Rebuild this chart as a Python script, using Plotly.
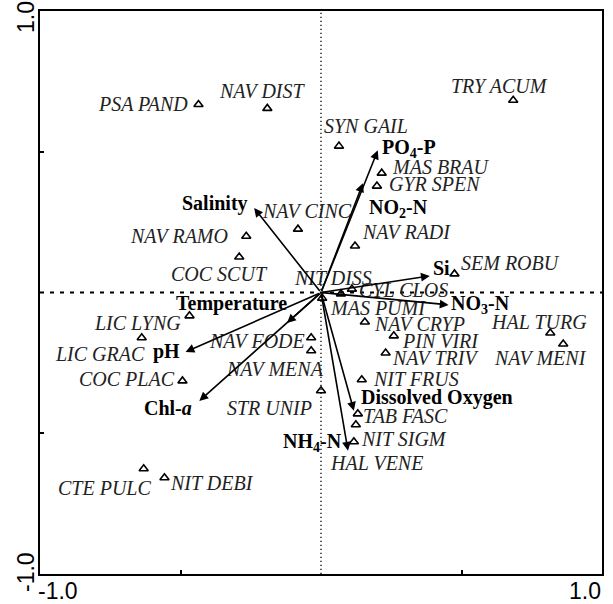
import plotly.graph_objects as go

# Species scores (axis 1, axis 2)
species = ["PSA PAND", "NAV DIST", "TRY ACUM", "SYN GAIL", "MAS BRAU", "GYR SPEN",
           "NAV CINC", "NAV RAMO", "COC SCUT", "NAV RADI", "SEM ROBU", "NIT DISS",
           "CYL CLOS", "MAS PUMI", "NAV CRYP", "PIN VIRI", "NAV TRIV", "HAL TURG",
           "NAV MENI", "NIT FRUS", "TAB FASC", "HAL VENE", "NIT SIGM", "STR UNIP",
           "NAV FODE", "NAV MENA", "LIC LYNG", "LIC GRAC", "COC PLAC", "CTE PULC",
           "NIT DEBI"]
sp_x = [-0.436, -0.191, 0.684, 0.064, 0.216, 0.199, -0.082, -0.266, -0.291, 0.121,
        0.475, 0.071, 0.110, 0.004, 0.156, 0.259, 0.230, 0.816, 0.862, 0.145,
        0.131, 0.124, 0.117, 0.000, -0.035, -0.035, -0.468, -0.638, -0.493, -0.631,
        -0.557]
sp_y = [0.668, 0.654, 0.683, 0.520, 0.424, 0.378, 0.225, 0.200, 0.126, 0.165,
        0.066, -0.005, 0.012, -0.020, -0.105, -0.154, -0.215, -0.144, -0.183, -0.310,
        -0.431, -0.470, -0.530, -0.349, -0.161, -0.207, -0.083, -0.161, -0.314, -0.626,
        -0.658]

# Environmental variable biplot scores
env_names = ["Salinity", "PO<sub>4</sub>-P", "NO<sub>2</sub>-N", "Si", "NO<sub>3</sub>-N",
             "Temperature", "pH", "Chl-<i>a</i>", "Dissolved Oxygen", "NH<sub>4</sub>-N"]
env_x = [-0.238, 0.202, 0.149, 0.387, 0.454, -0.121, -0.482, -0.433, 0.117, 0.096]
env_y = [0.300, 0.505, 0.388, 0.059, -0.044, -0.108, -0.211, -0.385, -0.420, -0.562]

# Axis tick labels
tick_vals = [-1.0, 1.0]
tick_text = ["-1.0", "1.0"]

# Label placement: (xanchor, xshift px, yshift px)
sp_label_pos = {
    "PSA PAND": ("right", -8, 0), "NAV DIST": ("center", -5, 17),
    "TRY ACUM": ("center", -14, 14), "SYN GAIL": ("center", 27, 20),
    "MAS BRAU": ("left", 8, 6), "GYR SPEN": ("left", 10, 2),
    "NAV CINC": ("center", 9, 18), "NAV RAMO": ("right", -16, 0),
    "COC SCUT": ("center", -20, -17), "NAV RADI": ("left", 5, 14),
    "SEM ROBU": ("left", 5, 11), "NIT DISS": ("center", -8, 16),
    "CYL CLOS": ("left", 5, -1), "MAS PUMI": ("left", 6, -10),
    "NAV CRYP": ("left", 7, -2), "PIN VIRI": ("left", 6, -5),
    "NAV TRIV": ("left", 4, -5), "HAL TURG": ("center", -11, 11),
    "NAV MENI": ("center", -23, -14), "NIT FRUS": ("left", 9, 1),
    "TAB FASC": ("left", 3, -2), "HAL VENE": ("center", 21, -38),
    "NIT SIGM": ("left", 5, 3), "STR UNIP": ("right", -7, -17),
    "NAV FODE": ("right", -4, -3), "NAV MENA": ("center", -36, -18),
    "LIC LYNG": ("right", -6, -7), "LIC GRAC": ("center", -42, -16),
    "COC PLAC": ("right", -5, 2), "CTE PULC": ("center", -39, -19),
    "NIT DEBI": ("left", 4, -5),
}
env_label_pos = [("right", -4, 5), ("left", 2, 2), ("left", 4, -25), ("left", 1, 8),
                 ("left", 0, 0), ("right", 2, 19), ("right", -4, 0), ("right", -5, -7),
                 ("left", 5, 13), ("right", -4, 8)]

serif = "'Times New Roman', 'Liberation Serif', Tinos, 'DejaVu Serif', serif"
sans = "Arial, 'Liberation Sans', sans-serif"

fig = go.Figure()

# origin reference lines
fig.add_shape(type="line", x0=-1, x1=1, y0=0, y1=0, xref="x", yref="y",
              line=dict(color="black", width=2, dash="4px,6px"), layer="below")
fig.add_shape(type="line", x0=0, x1=0, y0=-1, y1=1, xref="x", yref="y",
              line=dict(color="black", width=1.3, dash="1.3px,2.7px"), layer="below")

# species markers
fig.add_trace(go.Scatter(
    x=sp_x, y=sp_y, mode="markers",
    marker=dict(symbol="triangle-up-open", size=8, color="black",
                line=dict(width=1.6, color="black")),
    hoverinfo="text", text=species, showlegend=False))

annotations = []
for name, x, y in zip(species, sp_x, sp_y):
    anchor, dx, dy = sp_label_pos[name]
    annotations.append(dict(
        x=x, y=y, xref="x", yref="y", text=f"<i>{name}</i>", showarrow=False,
        xanchor=anchor, yanchor="middle", xshift=dx, yshift=dy,
        font=dict(family=serif, size=20, color="#222")))

# environmental arrows from origin
for name, x, y, (anchor, dx, dy) in zip(env_names, env_x, env_y, env_label_pos):
    annotations.append(dict(
        x=x, y=y, ax=0, ay=0, xref="x", yref="y", axref="x", ayref="y",
        text="", showarrow=True, arrowhead=2, arrowsize=1.1, arrowwidth=1.6,
        arrowcolor="black"))
    annotations.append(dict(
        x=x, y=y, xref="x", yref="y", text=f"<b>{name}</b>", showarrow=False,
        xanchor=anchor, yanchor="middle", xshift=dx, yshift=dy,
        font=dict(family=serif, size=20, color="black")))

# axis end labels
tick_font = dict(family=sans, size=23, color="black")
annotations.append(dict(x=tick_vals[0], y=0, xref="x", yref="paper", text=tick_text[0],
                        showarrow=False, xanchor="left", yanchor="top", xshift=-4, yshift=-2,
                        font=tick_font))
annotations.append(dict(x=tick_vals[1], y=0, xref="x", yref="paper", text=tick_text[1],
                        showarrow=False, xanchor="right", yanchor="top", xshift=1, yshift=-2,
                        font=tick_font))
annotations.append(dict(x=0, y=tick_vals[1], xref="paper", yref="y", text=tick_text[1],
                        showarrow=False, xanchor="center", yanchor="middle", textangle=-90,
                        xshift=-14, yshift=-6, font=tick_font))
annotations.append(dict(x=0, y=tick_vals[0], xref="paper", yref="y", text=tick_text[0],
                        showarrow=False, xanchor="center", yanchor="middle", textangle=-90,
                        xshift=-14, yshift=2, font=tick_font))

axis_style = dict(range=[-1, 1], showgrid=False, zeroline=False, showline=True,
                  linecolor="black", linewidth=2, mirror=True, ticks="inside",
                  tickvals=[-0.5, 0.5], ticklen=4, tickwidth=2, tickcolor="black",
                  showticklabels=False, fixedrange=True)

fig.update_layout(
    width=613, height=604,
    margin=dict(l=40, r=9, t=9, b=30),
    paper_bgcolor="white", plot_bgcolor="white",
    xaxis=axis_style, yaxis=axis_style,
    annotations=annotations,
    showlegend=False,
)

fig.write_html("out.html")
